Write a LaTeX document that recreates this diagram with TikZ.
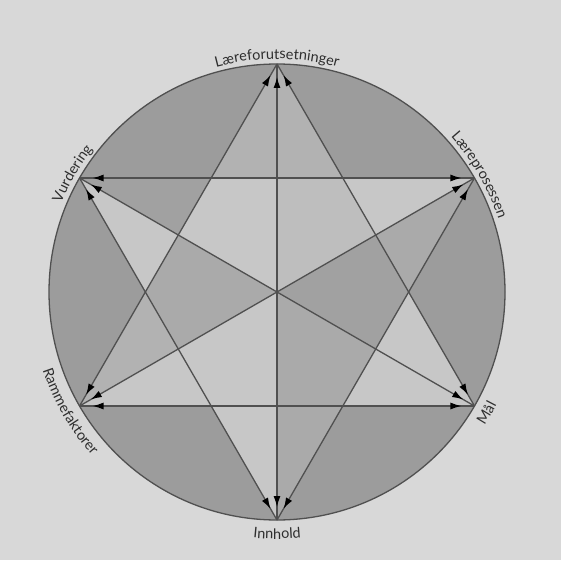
\documentclass[tikz,border=0pt]{standalone}
\usepackage{fontspec}
\setmainfont{Lato}
\usetikzlibrary{arrows.meta,decorations.markings,decorations.text}
\definecolor{page}{HTML}{D8D8D8}
\definecolor{ring}{HTML}{9C9C9C}
\definecolor{shl}{HTML}{C7C7C7}
\definecolor{shm}{HTML}{B2B2B2}
\definecolor{shd}{HTML}{A1A1A1}
\definecolor{wire}{HTML}{505050}
\definecolor{ink}{HTML}{2E2E2E}
\newcommand{\rimfont}{\fontsize{14.5}{16}\selectfont\color{ink}}
\tikzset{
  link/.style={draw=wire,line width=1.3pt,postaction={decorate},
    decoration={markings,
      mark=at position 13pt with {\pgfsetcolor{black}\arrowreversed{Latex[length=11pt,width=7pt]}},
      mark=at position -13pt with {\pgfsetcolor{black}\arrow{Latex[length=11pt,width=7pt]}}}},
  rimtext/.style={decorate,decoration={text along path,text align=center,text={|\rimfont|#1}}}
}
\begin{document}
\begin{tikzpicture}[x=1pt,y=1pt]
\fill[page] (0,0) rectangle (561,560);
\useasboundingbox (0,0) rectangle (561,560);
\coordinate (O) at (277,268);
\foreach \n/\a in {lf/90,lp/30,mal/-30,inn/-90,ram/210,vur/150} {
  \coordinate (\n) at ([shift={(\a:228)}]O);
  \coordinate (m\n) at ([shift={(\a:114)}]O);
}
\foreach \a in {0,60,...,300} \coordinate (h\a) at ([shift={(\a:131.64)}]O);
\fill[ring] (O) circle[radius=228];
\foreach \p/\h/\q/\cq/\cp/\cr in {lp/60/lf/shl!60!shm/shl/shm, lf/120/vur/shl/shm/shd, vur/180/ram/shd!50!shm/shl/shm, ram/240/inn/shl/shl/shl, inn/300/mal/shd!50!shm/shd!50!shm/shl, mal/0/lp/shd/shl/shd!50!shm} {
  \fill[\cq] (O) -- (m\p) -- (h\h) -- (m\q) -- cycle;
  \fill[\cp] (\p) -- (h\h) -- (m\p) -- cycle;
  \fill[\cr] (\q) -- (h\h) -- (m\q) -- cycle;
}
\draw[wire,line width=1.3pt] (O) circle[radius=228];
\foreach \s/\t in {lf/mal,lf/inn,lf/ram,lp/vur,lp/ram,lp/inn,mal/vur,mal/ram,inn/vur} \draw[link] (\s) -- (\t);
\path[rimtext=Læreforutsetninger] ([shift={(130:233)}]O) arc[start angle=130,end angle=50,radius=233];
\path[rimtext=Læreprosessen] ([shift={(70:233)}]O) arc[start angle=70,end angle=-10,radius=233];
\path[rimtext=Vurdering] ([shift={(190:233)}]O) arc[start angle=190,end angle=110,radius=233];
\path[rimtext=Rammefaktorer] ([shift={(170:247)}]O) arc[start angle=170,end angle=250,radius=247];
\path[rimtext=Innhold] ([shift={(-130:247)}]O) arc[start angle=-130,end angle=-50,radius=247];
\path[rimtext=Mål] ([shift={(-70:247)}]O) arc[start angle=-70,end angle=10,radius=247];
\end{tikzpicture}
\end{document}
